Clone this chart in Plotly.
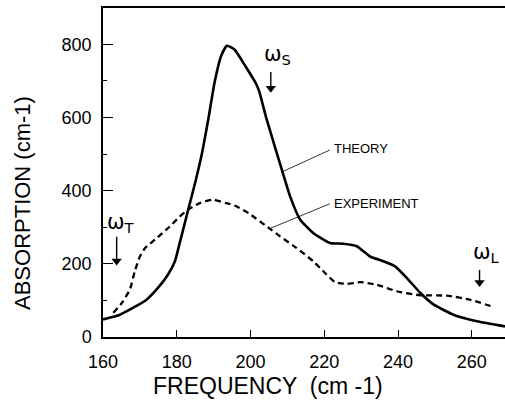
import plotly.graph_objects as go

# Theory (solid) curve
theory_x = [160.0, 164.6, 168.2, 171.8, 174.9, 177.6, 179.5, 180.8, 181.7, 183.1, 184.9, 186.7,
            188.5, 190.3, 192.1, 193.6, 195.7, 198.8, 201.5, 202.4, 204.2, 206.9, 209.1, 210.7,
            213.4, 217.0, 221.5, 225.2, 228.8, 232.4, 236.0, 239.2, 242.4, 246.0, 249.6, 255.0,
            261.4, 269.0]
theory_y = [48, 61, 80, 102, 134, 170, 207, 257, 292, 348, 418, 495,
            592, 698, 770, 796, 785, 737, 692, 670, 601, 510, 437, 385,
            322, 284, 257, 255, 248, 220, 207, 193, 161, 121, 89, 61,
            43, 29]

# Experiment (dashed) curve
exp_x = [162.8, 165.1, 167.3, 168.6, 170.0, 171.4, 174.1, 178.1, 180.8, 183.1, 186.2, 189.8,
         193.4, 196.0, 199.5, 205.1, 208.0, 212.5, 217.0, 220.2, 222.9, 226.1, 229.7, 234.2,
         239.6, 246.0, 253.2, 259.5, 265.9]
exp_y = [66, 93, 130, 179, 220, 243, 266, 302, 329, 348, 366, 375,
         366, 358, 338, 297, 275, 243, 207, 175, 150, 145, 150, 143,
         125, 114, 113, 102, 82]

x_ticks = [160, 180, 200, 220, 240, 260]
y_ticks = [0, 200, 400, 600, 800]
y_minor = [100, 300, 500, 700]
x_range = [160, 269]
y_range = [0, 899]

# Frequency markers: label, label x, label y (bottom), arrow x, arrow top, arrow tip
omega_names = ["ω<sub>T</sub>", "ω<sub>S</sub>", "ω<sub>L</sub>"]
omega_text_x = [165.0, 207.2, 264.0]
omega_text_y = [272, 733, 190]
arrow_x = [163.7, 205.5, 262.1]
arrow_top = [274, 724, 183]
arrow_tip = [198, 670, 139]

# Curve labels with leader lines
curve_names = ["THEORY", "EXPERIMENT"]
curve_text_x = [222.2, 222.2]
curve_text_y = [514, 366]
leader_x0 = [221.5, 221.5]
leader_y0 = [511, 364]
leader_x1 = [208.5, 204.9]
leader_y1 = [451, 295]

FONT = "Liberation Sans, Arial, sans-serif"

fig = go.Figure()
fig.add_trace(go.Scatter(x=theory_x, y=theory_y, mode="lines",
                         line=dict(color="black", width=2.6, shape="spline", smoothing=0.5),
                         showlegend=False, hoverinfo="skip"))
fig.add_trace(go.Scatter(x=exp_x, y=exp_y, mode="lines",
                         line=dict(color="black", width=2.3, dash="6px,4px", shape="spline", smoothing=0.5),
                         showlegend=False, hoverinfo="skip"))

# arrows: shafts and heads
for ax_, at, ap in zip(arrow_x, arrow_top, arrow_tip):
    fig.add_trace(go.Scatter(x=[ax_, ax_], y=[at, ap + 14], mode="lines",
                             line=dict(color="black", width=1.4), showlegend=False, hoverinfo="skip"))
    fig.add_trace(go.Scatter(x=[ax_], y=[ap + 10], mode="markers",
                             marker=dict(symbol="triangle-down", size=9, color="black",
                                         line=dict(width=0)),
                             showlegend=False, hoverinfo="skip"))

# leader lines
for x0, y0, x1, y1 in zip(leader_x0, leader_y0, leader_x1, leader_y1):
    fig.add_trace(go.Scatter(x=[x0, x1], y=[y0, y1], mode="lines",
                             line=dict(color="black", width=0.8), showlegend=False, hoverinfo="skip"))

annotations = []
for txt, tx, ty in zip(omega_names, omega_text_x, omega_text_y):
    annotations.append(dict(x=tx, y=ty, xref="x", yref="y", text=txt, showarrow=False,
                            font=dict(family="DejaVu Sans, sans-serif", size=21, color="black"),
                            xanchor="center", yanchor="bottom", borderpad=0))
for txt, tx, ty in zip(curve_names, curve_text_x, curve_text_y):
    annotations.append(dict(x=tx, y=ty, xref="x", yref="y", text=txt, showarrow=False,
                            font=dict(family=FONT, size=13, color="black"),
                            xanchor="left", yanchor="middle"))

W, H = 505, 402
L, R, T, B = 103, 0, 8, 65
pw, ph = W - L - R, H - T - B

def paper(px, py):
    return (px - L) / pw, 1 - (py - T) / ph

yx, yy = paper(22, 203)
annotations.append(dict(x=yx, y=yy, xref="paper", yref="paper", text="ABSORPTION (cm-1)",
                        showarrow=False, textangle=-90, xanchor="center", yanchor="middle",
                        font=dict(family=FONT, size=22, color="black")))
xx, xy = paper(268, 386)
annotations.append(dict(x=xx, y=xy, xref="paper", yref="paper", text="FREQUENCY  (cm -1)",
                        showarrow=False, xanchor="center", yanchor="middle",
                        font=dict(family=FONT, size=23, color="black")))

fig.update_layout(
    width=W, height=H,
    margin=dict(l=L, r=R, t=T, b=B),
    paper_bgcolor="white", plot_bgcolor="white",
    showlegend=False,
    annotations=annotations,
    xaxis=dict(range=x_range, tickvals=x_ticks, ticks="inside", ticklen=7, tickwidth=1.3,
               tickcolor="black", showline=True, linecolor="black", linewidth=1.5, mirror=True,
               showgrid=False, zeroline=False, ticklabelstandoff=8,
               tickfont=dict(family=FONT, size=18, color="black")),
    yaxis=dict(range=y_range, tickvals=y_ticks, ticks="inside", ticklen=10, tickwidth=1.3,
               tickcolor="black", showline=True, linecolor="black", linewidth=1.5,
               showgrid=False, zeroline=False, ticklabelstandoff=6,
               minor=dict(tickvals=y_minor, ticks="inside", ticklen=4,
                          tickcolor="black", tickwidth=1.2),
               tickfont=dict(family=FONT, size=18, color="black")),
)

fig.write_html("out.html")
